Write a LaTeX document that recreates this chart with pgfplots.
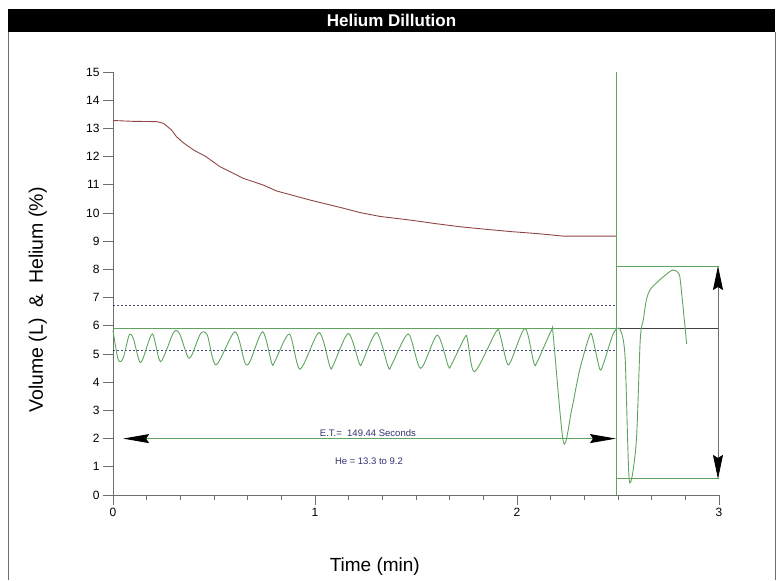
\documentclass[border=0pt]{standalone}
\usepackage{fontspec}
\setmainfont{Liberation Sans}
\usepackage{pgfplots}
\pgfplotsset{compat=1.18}
\usetikzlibrary{arrows.meta}

\definecolor{volgreen}{RGB}{95,165,95}
\definecolor{hered}{RGB}{145,70,70}
\definecolor{refblue}{RGB}{70,70,130}
\definecolor{txtblue}{RGB}{50,50,110}
\definecolor{framegray}{RGB}{110,110,110}

\begin{document}
\begin{tikzpicture}
\useasboundingbox (0,0) rectangle (783pt,580pt);
% title bar and frame
\fill[black] (8pt,548pt) rectangle (775pt,571pt);
\node[text=white, font=\bfseries\fontsize{17}{19}\selectfont] at (391.5pt,559.5pt) {Helium Dillution};
\draw[framegray, line width=0.8pt] (8pt,548pt) -- (8pt,0pt) (775pt,548pt) -- (775pt,0pt);

\begin{axis}[
  at={(113pt,85pt)}, anchor=south west,
  scale only axis, width=606pt, height=423pt,
  xmin=0, xmax=3, ymin=0, ymax=15,
  axis lines*=left,
  axis line style={framegray, line width=0.8pt},
  tick align=outside,
  xtick={0,1,2,3}, ytick={0,1,...,15},
  minor x tick num=5,
  major tick length=10pt, minor tick length=5pt,
  every tick/.style={framegray, line width=0.8pt},
  ticklabel style={font=\fontsize{12}{14}\selectfont},
  /pgf/number format/assume math mode=true,
  clip=false,
  xlabel={Time (min)},
  ylabel={Volume (L)\ \ \&\ \ Helium (\%)},
  xlabel style={at={(rel axis cs:0.432,-0.170)}, anchor=center, font=\fontsize{19}{22}\selectfont},
  ylabel style={at={(rel axis cs:-0.124,0.461)}, anchor=center, font=\fontsize{19.5}{22}\selectfont},
]

% reference lines
\addplot[refblue, line width=0.8pt, dash pattern=on 2pt off 2pt] coordinates {(0,6.73) (2.49,6.73)};
\addplot[refblue, line width=0.8pt, dash pattern=on 2pt off 2pt] coordinates {(0,5.12) (2.49,5.12)};
\addplot[volgreen, line width=0.9pt] coordinates {(0,5.91) (2.49,5.91)};
\addplot[black!75, line width=0.8pt] coordinates {(2.49,5.91) (3,5.91)};
\addplot[volgreen, line width=0.9pt] coordinates {(2.49,0) (2.49,15)};
\addplot[volgreen, line width=0.9pt] coordinates {(2.49,8.12) (3,8.12)};
\addplot[volgreen, line width=0.9pt] coordinates {(2.49,0.57) (3,0.57)};

% helium curve
\addplot[hered, line width=0.9pt] coordinates {
  (0,13.28) (0.10,13.25) (0.216,13.24) (0.25,13.18) (0.29,12.94) (0.315,12.7)
  (0.35,12.48) (0.40,12.23) (0.46,12.0) (0.53,11.64) (0.645,11.23) (0.744,10.99)
  (0.81,10.78) (0.975,10.46) (1.14,10.17) (1.22,10.02) (1.32,9.88) (1.47,9.75)
  (1.6,9.62) (1.72,9.51) (1.85,9.42) (1.97,9.34) (2.1,9.27) (2.23,9.18) (2.49,9.18)
};

% volume curve
\addplot[volgreen, line width=0.9pt, smooth, tension=0.45] coordinates {
  (0,5.83) (0.026,4.79) (0.05,4.85) (0.08,5.67) (0.10,5.56) (0.13,4.75) (0.147,4.81)
  (0.195,5.71) (0.236,4.73) (0.30,5.77) (0.33,5.71) (0.37,4.9) (0.39,4.96)
  (0.434,5.73) (0.467,5.67) (0.51,4.61) (0.604,5.79) (0.653,4.69) (0.678,4.73)
  (0.741,5.79) (0.786,4.67) (0.80,4.72) (0.873,5.71) (0.926,4.46) (1.02,5.76)
  (1.074,4.55) (1.09,4.6) (1.165,5.73) (1.22,4.65) (1.235,4.72) (1.305,5.76)
  (1.363,4.53) (1.38,4.62) (1.462,5.71) (1.523,4.49) (1.605,5.67) (1.66,4.57)
  (1.675,4.62) (1.743,5.61) (1.755,5.5) (1.79,4.37) (1.896,5.79) (1.915,5.7)
  (1.95,4.69) (1.97,4.75) (2.04,5.91) (2.084,4.67) (2.10,4.72) (2.17,5.83)
  (2.18,5.6) (2.23,1.86) (2.27,3.0) (2.31,4.43) (2.36,5.67) (2.375,5.55)
  (2.41,4.46) (2.43,4.7) (2.477,5.73) (2.51,5.88) (2.535,4.9) (2.556,0.51)
  (2.59,1.83) (2.61,5.5) (2.625,6.2) (2.64,6.9) (2.66,7.29) (2.71,7.65)
  (2.77,7.98) (2.80,7.86) (2.81,7.51) (2.84,5.35)
};

% arrows
\addplot[volgreen, line width=0.9pt,
  {Stealth[black,length=26pt,width=9pt,inset=3pt]}-{Stealth[black,length=26pt,width=9pt,inset=3pt]}]
  coordinates {(0.05,2) (2.49,2)};
\addplot[framegray, line width=0.9pt,
  {Stealth[black,length=24pt,width=10pt,inset=3pt]}-{Stealth[black,length=24pt,width=10pt,inset=3pt]}]
  coordinates {(2.995,0.57) (2.995,8.12)};

\node[txtblue, font=\fontsize{9.5}{11}\selectfont] at (axis cs:1.262,2.2) {E.T.=\ \ 149.44 Seconds};
\node[txtblue, font=\fontsize{9.5}{11}\selectfont] at (axis cs:1.267,1.18) {He = 13.3 to 9.2};
\end{axis}
\end{tikzpicture}
\end{document}
